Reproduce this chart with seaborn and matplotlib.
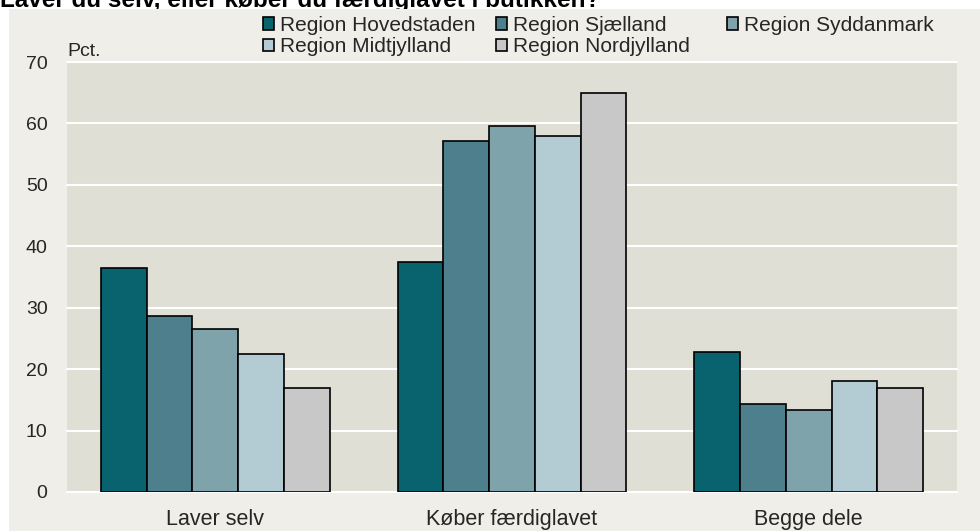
import matplotlib
matplotlib.use("Agg")
import matplotlib.pyplot as plt
from matplotlib.patches import Rectangle, Patch
import seaborn as sns
import pandas as pd

categories = ["Laver selv", "Køber færdiglavet", "Begge dele"]
regions = ["Region Hovedstaden", "Region Sjælland", "Region Syddanmark",
           "Region Midtjylland", "Region Nordjylland"]
hovedstaden = [36.4, 37.4, 22.8]
sjaelland = [28.6, 57.2, 14.4]
syddanmark = [26.6, 59.6, 13.4]
midtjylland = [22.5, 57.9, 18.1]
nordjylland = [17.0, 64.9, 17.0]
yticks = [0, 10, 20, 30, 40, 50, 60, 70]
title = "Laver du selv, eller køber du færdiglavet i butikken?"
ylabel = "Pct."

colors = ["#08636F", "#4E7F8C", "#7EA3AB", "#B3CBD3", "#C8C8C8"]

series = [hovedstaden, sjaelland, syddanmark, midtjylland, nordjylland]
rows = []
for reg, vals in zip(regions, series):
    for cat, v in zip(categories, vals):
        rows.append({"Kategori": cat, "Region": reg, "Pct": v})
df = pd.DataFrame(rows)

sns.set_style("white")
plt.rcParams["font.family"] = ["Liberation Sans", "DejaVu Sans"]

W, H = 980, 531
fig = plt.figure(figsize=(W / 100, H / 100), dpi=100, facecolor="white")
fig.patches.append(Rectangle((9 / W, 0), 1 - 9 / W, 1 - 9 / H, transform=fig.transFigure,
                             facecolor="#EFEEE8", edgecolor="none", zorder=-1))
fig.text(0 / W, 1 - 7 / H, title, fontsize=17.5, fontweight="bold", va="baseline",
         ha="left", zorder=-2, color="black")

ax = fig.add_axes([67 / W, (H - 492) / H, 890 / W, 430 / H])
ax.set_facecolor("#E0DFD5")
sns.barplot(data=df, x="Kategori", y="Pct", hue="Region", hue_order=regions,
            order=categories, palette=colors, width=0.77, gap=0, saturation=1,
            edgecolor="black", linewidth=1.2, ax=ax, legend=False, errorbar=None)

ax.set_ylim(0, 70)
ax.set_xlim(-0.5, 2.5)
ax.set_yticks(yticks)
ax.set_yticklabels([str(t) for t in yticks], fontsize=14)
ax.tick_params(axis="y", length=0, pad=14)
ax.tick_params(axis="x", length=0, pad=12, labelsize=15.5)
ax.yaxis.grid(True, color="white", linewidth=1.5)
ax.set_axisbelow(True)
for gl in ax.get_ygridlines():
    gl.set_clip_on(False)
for s in ax.spines.values():
    s.set_visible(False)
ax.set_xlabel("")
ax.set_ylabel("")
ax.text(0.0, 1.0 + 6 / 430, ylabel, transform=ax.transAxes, fontsize=14,
        ha="left", va="baseline")

handles = [Patch(facecolor=c, edgecolor="black", linewidth=1.2) for c in colors]
columns = [[0, 3], [1, 4], [2]]
col_x = [263, 496, 727]
for idxs, x in zip(columns, col_x):
    leg = fig.legend([handles[i] for i in idxs], [regions[i] for i in idxs],
                     ncol=1, loc="upper left", bbox_to_anchor=(x / W, 1 - 16 / H),
                     frameon=False, fontsize=15, handlelength=0.55, handleheight=0.55,
                     handletextpad=0.25, labelspacing=0.12,
                     borderaxespad=0, borderpad=0)

fig.savefig("out.png", dpi=100, facecolor=fig.get_facecolor())
